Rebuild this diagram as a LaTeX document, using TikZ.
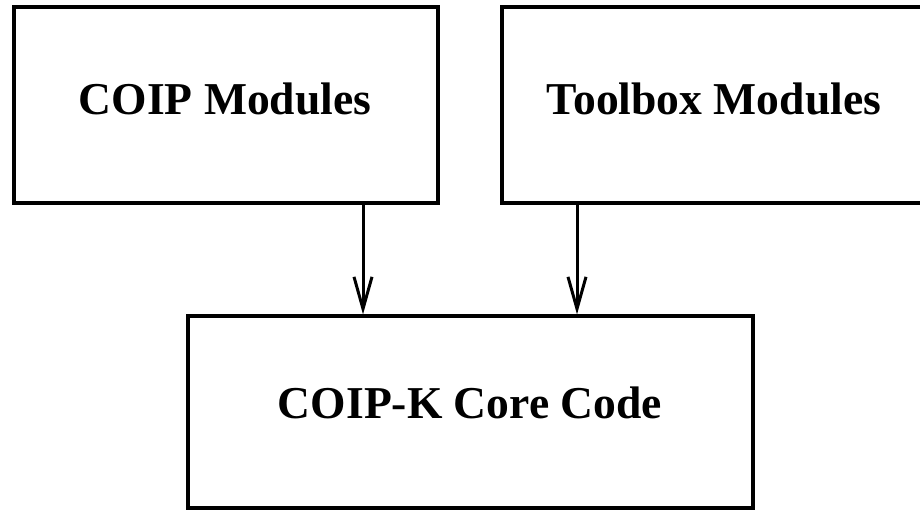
\documentclass[tikz,border=0pt]{standalone}
\usepackage{fontspec}
\setmainfont{Liberation Serif}
\usetikzlibrary{arrows.meta}
\begin{document}
\begin{tikzpicture}[x=1pt,y=1pt,
  box/.style={draw=black,line width=3.2pt,rectangle,inner sep=0pt,minimum width=#1},
  lbl/.style={anchor=base,inner sep=0pt,font=\fontsize{45.6}{50}\selectfont\bfseries},
  arr/.style={line width=3pt,-{Straight Barb[length=32pt,width=18pt,line width=3pt]}}]
\useasboundingbox (0,0) rectangle (920,510);
\node[box=424pt,minimum height=196pt] (coip) at (226,405) {};
\node[box=424pt,minimum height=196pt] (tool) at (714,405) {};
\node[box=565pt,minimum height=192pt] (core) at (470.5,98) {};
\node[lbl] (tcoip) at (225,395) {COIP Modules};
\node[lbl] (ttool) at (714,395) {Toolbox Modules};
\node[lbl] (tcore) at (470,91) {COIP-K Core Code};
\draw[arr] ([xshift=137pt]coip.south) coordinate (s1) -- (s1 |- core.north);
\draw[arr] ([xshift=-137pt]tool.south) coordinate (s2) -- (s2 |- core.north);
\end{tikzpicture}
\end{document}
